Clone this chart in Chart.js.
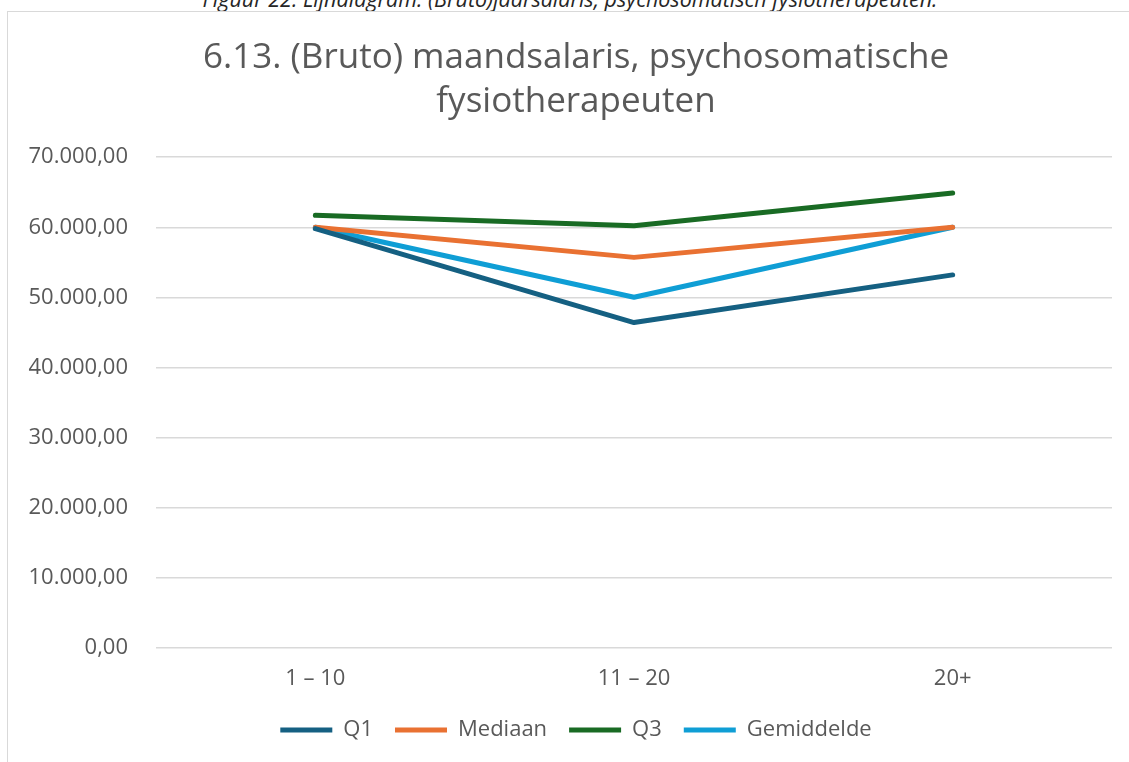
<!DOCTYPE html>
<html>
<head>
<meta charset="utf-8">
<script src="https://cdn.jsdelivr.net/npm/chart.js@4/dist/chart.umd.min.js"></script>
<style>
  html, body { margin: 0; padding: 0; background: #fff; width: 1129px; height: 762px; overflow: hidden; position: relative; }
  #caption { position: absolute; left: 0; width: 1140px; top: -16px; text-align: center; font: italic 21.5px "Open Sans", sans-serif; color: #262626; white-space: nowrap; }
  #box { position: absolute; left: 7px; top: 11px; width: 1136px; height: 770px; border-left: 1.5px solid #d9d9d9; border-top: 1.5px solid #d9d9d9; }
  #wrap { position: absolute; left: 0; top: 0; width: 1136px; height: 750px; }
</style>
</head>
<body>
<div id="caption">Figuur 22. Lijndiagram: (Bruto)jaarsalaris, psychosomatisch fysiotherapeuten.</div>
<div id="box"><div id="wrap"><canvas id="c"></canvas></div></div>
<script>
const categories = ["1 – 10", "11 – 20", "20+"];
const seriesNames = ["Q1", "Mediaan", "Q3", "Gemiddelde"];
const q1 = [59800, 46400, 53200];
const mediaan = [60000, 55700, 60000];
const q3 = [61700, 60200, 64900];
const gemiddelde = [60000, 50000, 60000];
const seriesColors = ["#156082", "#E97132", "#196B24", "#0F9ED5"];
const titleLines = ["6.13. (Bruto) maandsalaris, psychosomatische", "fysiotherapeuten"];

function fmt(v) {
  const parts = Number(v).toFixed(2).split(".");
  parts[0] = parts[0].replace(/\B(?=(\d{3})+(?!\d))/g, ".");
  return parts[0] + "," + parts[1];
}

const values = [q1, mediaan, q3, gemiddelde];
const datasets = seriesNames.map((n, i) => ({
  label: n,
  data: values[i],
  yAxisID: "y",
  borderColor: seriesColors[i],
  backgroundColor: seriesColors[i],
  borderWidth: 5,
  pointRadius: 0,
  pointHoverRadius: 0,
  borderCapStyle: "round",
  borderJoinStyle: "round",
  tension: 0,
  fill: false
}));

const FONT = "Open Sans";
const GREY = "#595959";

new Chart(document.getElementById("c"), {
  type: "line",
  data: { labels: categories, datasets },
  options: {
    responsive: true,
    maintainAspectRatio: false,
    animation: false,
    layout: { padding: { left: 0, right: 0, top: 24, bottom: 11 } },
    plugins: {
      tooltip: { enabled: false },
      title: {
        display: true,
        text: titleLines,
        color: GREY,
        font: { family: FONT, size: 35, weight: "normal", lineHeight: 1.26 },
        padding: { top: 0, bottom: 33 }
      },
      legend: {
        display: true,
        position: "bottom",
        labels: {
          color: GREY,
          font: { family: FONT, size: 22 },
          boxWidth: 52,
          boxHeight: 5,
          useBorderRadius: true,
          borderRadius: 2.5,
          padding: 22,
          generateLabels: (chart) => chart.data.datasets.map((d, i) => ({
            text: d.label,
            fillStyle: d.borderColor,
            strokeStyle: d.borderColor,
            lineWidth: 0,
            fontColor: GREY,
            datasetIndex: i
          }))
        }
      }
    },
    scales: {
      x: {
        offset: true,
        grid: { display: false, drawTicks: false, offset: true },
        border: { display: false },
        ticks: { color: GREY, font: { family: FONT, size: 22 }, padding: 18 },
        afterFit: (s) => { s.height -= 13; }
      },
      y: {
        min: 0,
        max: 70000,
        afterFit: (s) => { s.width = 148; },
        grid: { color: "#d9d9d9", lineWidth: 1.5, drawTicks: false },
        border: { display: false },
        ticks: {
          stepSize: 10000,
          color: GREY,
          font: { family: FONT, size: 22 },
          padding: 28,
          callback: (v) => fmt(v)
        }
      },
      yR: {
        position: "right",
        min: 0,
        max: 1,
        afterFit: (s) => { s.width = 32; },
        grid: { display: false, drawTicks: false },
        border: { display: false },
        ticks: { display: false }
      }
    }
  }
});
</script>
</body>
</html>
